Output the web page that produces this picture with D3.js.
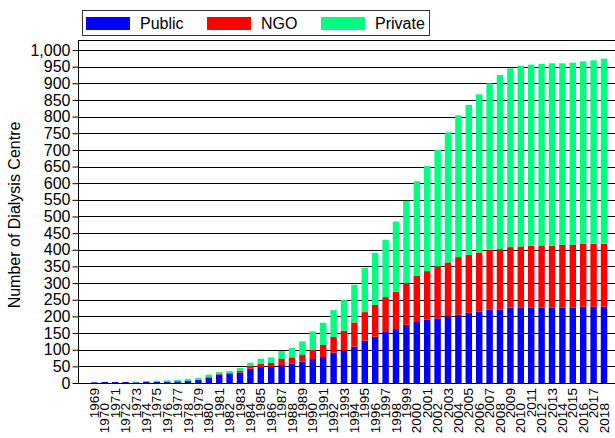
<!DOCTYPE html>
<html>
<head>
<meta charset="utf-8">
<script src="https://cdn.jsdelivr.net/npm/d3@7/dist/d3.min.js"></script>
<style>
html,body{margin:0;padding:0;background:#fff;}
svg{display:block;font-family:"Liberation Sans",Arial,sans-serif;}
</style>
</head>
<body>
<svg id="chart" width="615" height="438"></svg>
<script>
const years = d3.range(1969, 2019).map(String);
const publicVals = [2,3,3,3,2,3,4,4,5,7,10,17,25,28,31,43,48,49,54,59,64,72,78,91,97,109,127,139,153,162,175,183,190,194,200,205,211,215,221,221,226,227,227,227,227,227,227,229,229,229];
const ngoVals = [0,0,0,0,0,0,0,0,0,0,0,0,2,2,6,8,10,11,18,18,20,27,36,47,60,73,86,96,105,112,125,139,146,156,162,173,174,177,179,181,182,183,185,186,185,188,188,189,189,189];
const privateVals = [0,0,0,0,2,3,3,4,4,5,5,8,6,6,8,10,15,17,24,28,41,56,67,81,92,113,133,156,172,211,247,284,316,350,391,426,450,475,500,523,537,543,544,545,548,545,547,548,551,556];
const seriesNames = ["Public","NGO","Private"];
const seriesColors = ["#0000ff","#ff0000","#00ff80"];
const yTicks = d3.range(0, 1001, 50);
const yTitle = "Number of Dialysis Centre";

const svg = d3.select("#chart");
const plotLeft = 78, plotRight = 615, plotTop = 40, plotBottom = 383;

const x = d3.scaleBand().domain(years).range([89.2, 609.2]).paddingInner(0.38).paddingOuter(0.19);
const y = d3.scaleLinear().domain([0, 1030]).range([plotBottom, plotTop]);

const table = years.map((yr, i) => ({year: yr, Public: publicVals[i], NGO: ngoVals[i], Private: privateVals[i]}));
const stack = d3.stack().keys(seriesNames)(table);

// gridlines
svg.append("g").selectAll("line").data(yTicks.filter(d => d > 0)).join("line")
  .attr("x1", plotLeft).attr("x2", plotRight)
  .attr("y1", d => Math.round(y(d)) + 0.5).attr("y2", d => Math.round(y(d)) + 0.5)
  .attr("stroke", "#000").attr("stroke-width", 1);

// top frame
svg.append("line").attr("x1", plotLeft).attr("x2", plotRight)
  .attr("y1", plotTop + 0.5).attr("y2", plotTop + 0.5).attr("stroke", "#000");

// bars
svg.append("g").selectAll("g").data(stack).join("g")
  .attr("fill", (d, i) => seriesColors[i])
  .selectAll("rect").data(d => d).join("rect")
  .attr("x", d => x(d.data.year))
  .attr("width", x.bandwidth())
  .attr("y", d => y(d[1]))
  .attr("height", d => Math.max(0, y(d[0]) - y(d[1])));

// y axis
const yAxis = svg.append("g").attr("transform", `translate(${plotLeft + 0.5},0)`)
  .call(d3.axisLeft(y).tickValues(yTicks).tickSize(6).tickPadding(2).tickFormat(d3.format(",")));
yAxis.select(".domain").attr("d", `M0,${plotTop}V${plotBottom + 0.5}`);
yAxis.selectAll("text").attr("font-size", 16).attr("font-family", "Liberation Sans, Arial, sans-serif").attr("fill", "#000");
yAxis.selectAll("line").attr("stroke", "#000");

// x axis line
svg.append("line").attr("x1", plotLeft).attr("x2", plotRight)
  .attr("y1", plotBottom + 0.5).attr("y2", plotBottom + 0.5).attr("stroke", "#000");

// x labels
svg.append("g").selectAll("text").data(years).join("text")
  .attr("transform", (d, i) => `translate(${x(d) + x.bandwidth() / 2},${i % 2 === 0 ? 388 : 403}) rotate(-90)`)
  .attr("text-anchor", "end")
  .attr("dominant-baseline", "central")
  .attr("font-size", 13.6)
  .attr("fill", "#000")
  .text(d => d);

// y title
svg.append("text")
  .attr("transform", "translate(14,215) rotate(-90)")
  .attr("text-anchor", "middle")
  .attr("dominant-baseline", "central")
  .attr("font-size", 16)
  .attr("fill", "#000")
  .text(yTitle);

// legend
const lg = svg.append("g");
lg.append("rect").attr("x", 82.5).attr("y", 10.5).attr("width", 347).attr("height", 25)
  .attr("fill", "#fff").attr("stroke", "#333");
const legendX = [86, 207, 321];
seriesNames.forEach((name, i) => {
  lg.append("rect").attr("x", legendX[i]).attr("y", 17).attr("width", 44).attr("height", 13).attr("fill", seriesColors[i]);
  lg.append("text").attr("x", legendX[i] + 54).attr("y", 23.5)
    .attr("dominant-baseline", "central").attr("font-size", 16).attr("fill", "#000").text(name);
});
</script>
</body>
</html>
